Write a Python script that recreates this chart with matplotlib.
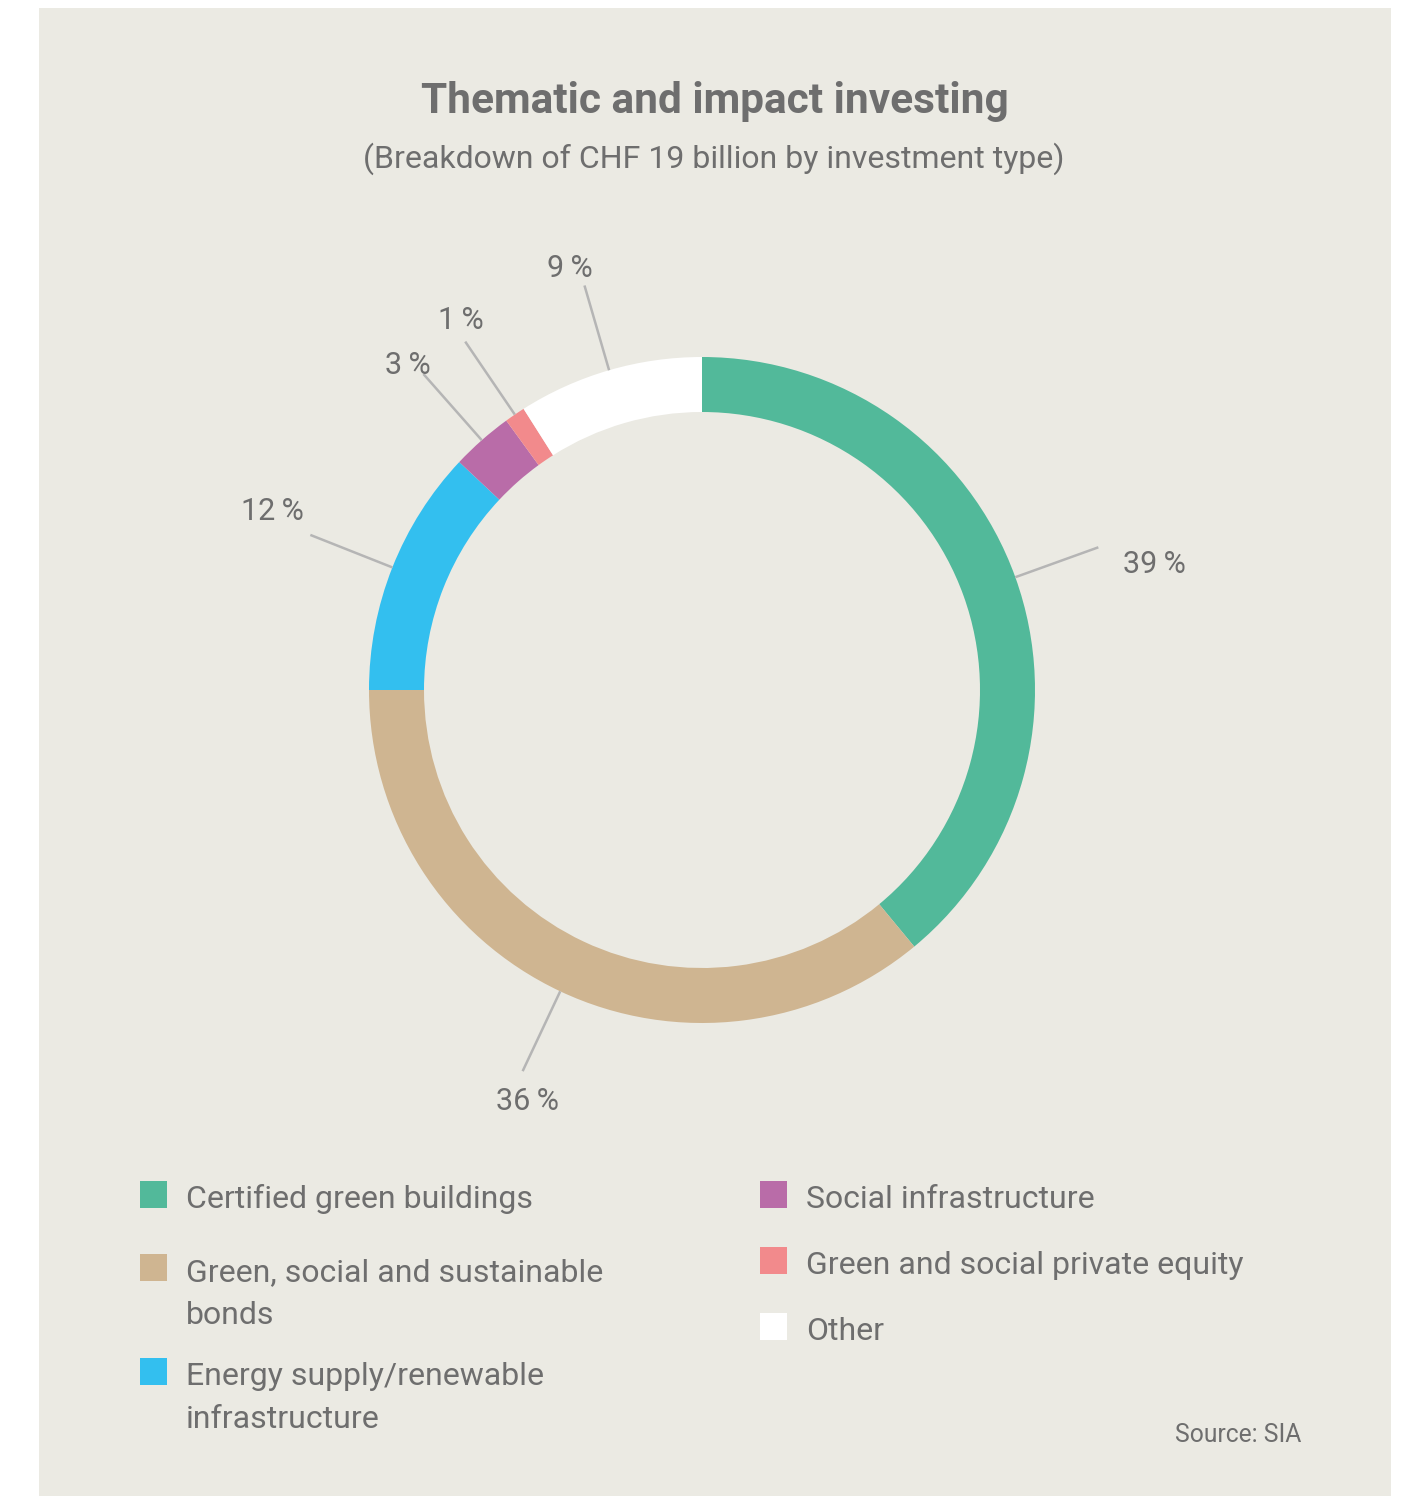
import numpy as np
import matplotlib
matplotlib.use("Agg")
import matplotlib.pyplot as plt
from matplotlib.patches import Rectangle

plt.rcParams['font.family'] = ['Roboto', 'DejaVu Sans']

# data
categories = [
    "Certified green buildings",
    "Green, social and sustainable\nbonds",
    "Energy supply/renewable\ninfrastructure",
    "Social infrastructure",
    "Green and social private equity",
    "Other",
]
shares = [39, 36, 12, 3, 1, 9]
colors = ["#52b99a", "#cfb591", "#33bfef", "#b96ca8", "#f28a8c", "#ffffff"]

title = "Thematic and impact investing"
subtitle = "(Breakdown of CHF 19 billion by investment type)"
source = "Source: SIA"

# label placement relative to the end of each leader line (px, y down)
label_offsets = [(25, 17, "left"), (5, 30, "center"), (-6, -23, "right"),
                 (-16, -9, "center"), (-4, -21, "center"), (-15, -17, "center")]

# legend layout: (marker x, text x, baseline y of first line)
legend_pos = [(140, 186, 1208), (140, 186, 1281), (140, 186, 1385),
              (760, 806, 1208), (760, 806, 1274), (760, 806, 1340)]

W, H = 1404, 1496
BG = "#ebeae3"
TXT = "#6e6e6e"
LINE = "#b5b5b5"

fig = plt.figure(figsize=(W / 100, H / 100), dpi=100, facecolor="white")
bg = fig.add_axes([0, 0, 1, 1])
bg.set_xlim(0, W)
bg.set_ylim(H, 0)
bg.axis("off")
bg.add_patch(Rectangle((39, 8), 1352, H, facecolor=BG, edgecolor="none"))

bg.text(715, 113, title, ha="center", va="baseline", fontsize=30.5,
        fontweight="bold", color=TXT)
bg.text(714, 168, subtitle, ha="center", va="baseline", fontsize=23,
        color=TXT)
bg.text(1301, 1442, source, ha="right", va="baseline", fontsize=17.7, color=TXT)

# donut
cx, cy, R = 702, 690, 333
ax = fig.add_axes([(cx - R) / W, (H - cy - R) / H, 2 * R / W, 2 * R / H])
ax.pie(shares, colors=colors, startangle=90, counterclock=False, radius=1,
       wedgeprops=dict(width=55 / 333, linewidth=0))
ax.set_xlim(-1, 1)
ax.set_ylim(-1, 1)
ax.set_aspect("equal")
ax.axis("off")

frac = np.array(shares) / np.sum(shares)
mids = np.cumsum(frac) - frac / 2
for m, s, (dx, dy, ha) in zip(mids, shares, label_offsets):
    a = 2 * np.pi * m
    ux, uy = np.sin(a), np.cos(a)
    ax.plot([ux, 1.265 * ux], [uy, 1.265 * uy], color=LINE, lw=1.8,
            clip_on=False, solid_capstyle="butt")
    ax.annotate(f"{s}\u2009%", xy=(1.265 * ux, 1.265 * uy), xytext=(dx, -dy),
                textcoords="offset pixels", ha=ha, va="center",
                fontsize=22, color=TXT, annotation_clip=False)

# legend
for lab, col, (mx, tx, by) in zip(categories, colors, legend_pos):
    bg.add_patch(Rectangle((mx, by - 27), 27, 27, facecolor=col,
                           edgecolor="none"))
    for i, line in enumerate(lab.split("\n")):
        bg.text(tx, by + i * 43, line, ha="left", va="baseline",
                fontsize=23, color=TXT)

fig.savefig("out.png", dpi=100, facecolor="white")
